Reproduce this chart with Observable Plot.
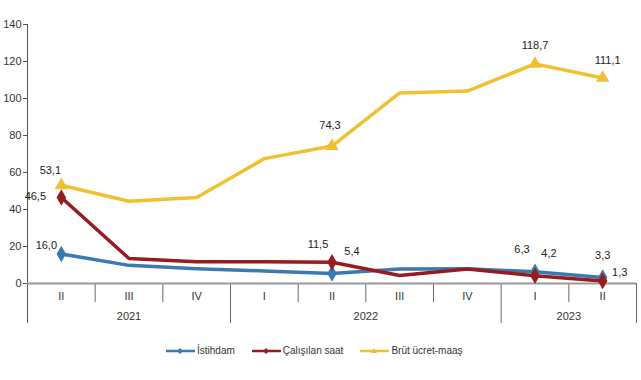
<!DOCTYPE html>
<html>
<head>
<meta charset="utf-8">
<script src="https://cdn.jsdelivr.net/npm/d3@7"></script>
<script src="https://cdn.jsdelivr.net/npm/@observablehq/plot@0.6"></script>
<style>
  html, body { margin: 0; padding: 0; background: #fff; }
  body { width: 641px; height: 380px; overflow: hidden; position: relative; font-family: "Liberation Sans", Arial, sans-serif; }
  #legend { position: absolute; left: 166px; top: 345px; display: flex; align-items: center; gap: 17px; font-size: 10px; color: #333; }
  .item { display: flex; align-items: center; }
  .item svg { margin-right: 2px; }
</style>
</head>
<body>
<div id="chart"></div>
<div id="legend"></div>
<script>
// ---- Data ----
const quarters = ["II", "III", "IV", "I", "II", "III", "IV", "I", "II"];
const years = ["2021", "2022", "2023"];
const yearStart = [0, 3, 7];
const yearEnd = [2, 6, 8];
const yTicks = [0, 20, 40, 60, 80, 100, 120, 140];

const seriesNames = ["İstihdam", "Çalışılan saat", "Brüt ücret-maaş"];
const istihdam   = [16.0, 9.8, 8.0, 6.8, 5.4, 7.8, 8.0, 6.3, 3.3];
const calisilan  = [46.5, 13.5, 11.8, 11.7, 11.5, 4.3, 7.9, 4.2, 1.3];
const brut       = [53.1, 44.5, 46.5, 67.5, 74.3, 103.0, 104.0, 118.7, 111.1];
const labeledIdx = [0, 4, 7, 8];

// ---- Styles ----
const colors = {"İstihdam": "#3a7ab3", "Çalışılan saat": "#961c1f", "Brüt ücret-maaş": "#f1c031"};
const symbols = {"İstihdam": "diamond", "Çalışılan saat": "diamond", "Brüt ücret-maaş": "triangle"};
// label offsets [dx, dy] per series per labeled point
const offsets = {
  "İstihdam":       [[-15, -8], [20, -22], [-13, -22], [0, -22]],
  "Çalışılan saat": [[-26, -1], [-14, -18], [14, -22], [17, -9]],
  "Brüt ücret-maaş":[[-11, -15], [-2, -21], [0, -18], [5, -17]]
};

const valuesBy = {"İstihdam": istihdam, "Çalışılan saat": calisilan, "Brüt ücret-maaş": brut};
const rows = seriesNames.flatMap(name => valuesBy[name].map((v, i) => ({series: name, i, v})));
const fmt = v => d3.format(".1f")(v).replace(".", ",");

const drawOrder = ["Brüt ücret-maaş", "İstihdam", "Çalışılan saat"];
const qBounds = [0.5, 1.5, 3.5, 4.5, 5.5, 7.5];
const yBounds = [-0.5, 2.5, 6.5, 8.5];
const yearRows = years.map((y, k) => ({year: y, x: (yearStart[k] + yearEnd[k]) / 2}));
const qRows = quarters.map((q, i) => ({q, i}));

const labelMarks = seriesNames.flatMap(name =>
  labeledIdx.map((i, k) => Plot.text([{i, v: valuesBy[name][i]}], {
    x: "i", y: "v", text: d => fmt(d.v),
    dx: offsets[name][k][0], dy: offsets[name][k][1],
    fill: "#222", fontSize: 11
  }))
);

const chart = Plot.plot({
  width: 641, height: 335,
  marginLeft: 27, marginRight: 5, marginTop: 24, marginBottom: 52,
  style: {fontFamily: "'Liberation Sans', Arial, sans-serif", background: "#fff"},
  x: {domain: [-0.5, 8.5], axis: null},
  y: {domain: [0, 140], axis: null},
  marks: [
    Plot.axisY({ticks: yTicks, label: null, tickSize: 4, tickPadding: 2, fontSize: 11, color: "#333", stroke: "#555", tickFormat: d => String(d)}),
    Plot.ruleX([-0.5], {y1: 140, y2: -21.6, stroke: "#555"}),
    Plot.ruleX(qBounds, {y1: 0, y2: -10.3, stroke: "#666"}),
    Plot.ruleX(yBounds.slice(1), {y1: 0, y2: -21.6, stroke: "#666"}),
    Plot.ruleY([0], {x1: -0.5, x2: 8.5, stroke: "#999", strokeWidth: 2}),
    Plot.text(qRows, {x: "i", y: 0, text: "q", dy: 13, fontSize: 11, fill: "#333"}),
    Plot.text(yearRows, {x: "x", y: 0, text: "year", dy: 33, fontSize: 11, fill: "#333"}),
    ...drawOrder.map(name => Plot.line(rows.filter(d => d.series === name), {
      x: "i", y: "v", stroke: colors[name], strokeWidth: 3.5, strokeLinejoin: "round"
    })),
    ...drawOrder.map(name => Plot.dot(rows.filter(d => d.series === name && labeledIdx.includes(d.i)), {
      x: "i", y: "v", symbol: symbols[name], fill: colors[name], r: 5
    })),
    ...labelMarks
  ]
});
document.getElementById("chart").appendChild(chart);

// ---- Legend ----
const legend = document.getElementById("legend");
seriesNames.forEach(name => {
  const item = document.createElement("div");
  item.className = "item";
  const symPath = name === "Brüt ücret-maaş" ? "M14,1 L17,6 L11,6 Z" : "M14,1 L17,4 L14,7 L11,4 Z";
  item.innerHTML = `<svg width="29" height="8"><line x1="0" x2="29" y1="4" y2="4" stroke="${colors[name]}" stroke-width="2.5"/><path d="${symPath}" fill="${colors[name]}"/></svg><span>${name}</span>`;
  legend.appendChild(item);
});
</script>
</body>
</html>
